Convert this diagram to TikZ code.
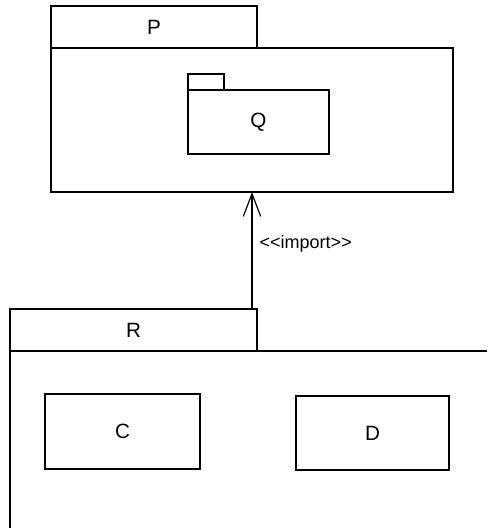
\documentclass[tikz,border=0pt]{standalone}
\usepackage{fontspec}
\setmainfont{Liberation Sans}[Ligatures=TeXOff]
\usetikzlibrary{arrows.meta}

\tikzset{
  pkg/.style 2 args={draw, line width=0.9pt, inner sep=0pt, outer sep=0pt,
    minimum width=#1*0.75pt, minimum height=#2*0.75pt,
    font=\fontsize{15.5}{17}\selectfont},
  imp/.style={line width=0.9pt, -{Straight Barb[length=17pt,width=13pt,line width=0.9pt]}}
}

\begin{document}
\begin{tikzpicture}[x=0.75pt,y=-0.75pt]
            \useasboundingbox (0,0) rectangle (487,528);

            % package P with Q inside
            \node[pkg={206}{42}] (ptab) at (154,27) {P};
            \node[pkg={402}{144}] (pbody) at (252,120) {};
            \node[pkg={36}{16}] (qtab) at (206,82) {};
            \node[pkg={141}{64}] (qbody) at (258.5,122) {Q};

            % package R, cut off at the right and bottom
            \node[pkg={247}{42}] (rtab) at (133.5,330) {R};
            \draw[line width=0.9pt] (487,351) -- (rtab.south east) -- (rtab.south west) -- (10,528);

            % classes in R
            \node[pkg={155}{75}] (c) at (122.5,431.5) {C};
            \node[pkg={153}{74}] (d) at (372.5,433) {D};

            % import dependency
            \draw[imp] (pbody.south |- rtab.north) -- (pbody.south)
              node[pos=0.56, right=2pt, font=\fontsize{13.5}{15}\selectfont] (implabel) {<<import>>};
        \end{tikzpicture}
\end{document}
